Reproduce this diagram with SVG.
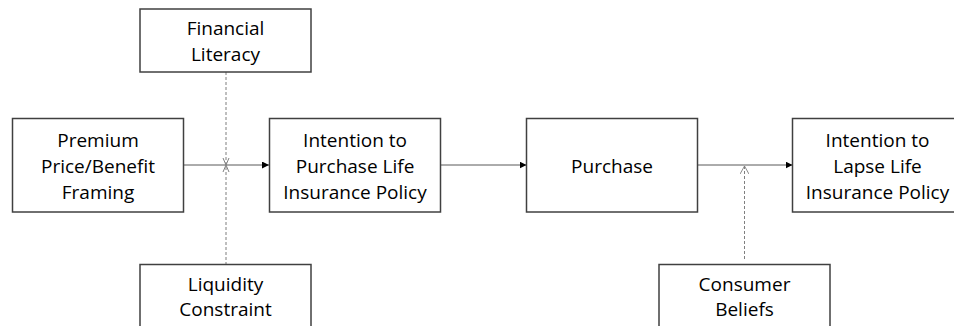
<svg xmlns="http://www.w3.org/2000/svg" width="954" height="326" viewBox="0 0 954 326">
  <style>
    .box { fill: #ffffff; stroke: #404040; stroke-width: 1.5; }
    .lbl { font-family: "Open Sans", "Liberation Sans", sans-serif; font-size: 19px; fill: #000000; text-anchor: middle; }
    .flow { stroke: #595959; stroke-width: 1; fill: none; }
    .mod { stroke: #7f7f7f; stroke-width: 1; fill: none; stroke-dasharray: 3 2; }
  </style>
  <defs>
    <marker id="solidHead" viewBox="0 0 10 10" refX="10" refY="5" markerWidth="7" markerHeight="7" markerUnits="userSpaceOnUse" orient="auto">
      <path d="M0,0 L10,5 L0,10 Z" fill="#000000"/>
    </marker>
    <marker id="openHead" viewBox="0 0 10 10" refX="9" refY="5" markerWidth="9" markerHeight="9" markerUnits="userSpaceOnUse" orient="auto">
      <path d="M0,0 L9,5 L0,10" fill="none" stroke="#7f7f7f" stroke-width="1"/>
    </marker>
  </defs>

  <!-- connectors -->
  <g id="connectors">
    <line class="flow" x1="183.5" y1="165" x2="269" y2="165" marker-end="url(#solidHead)"/>
    <line class="flow" x1="440" y1="165" x2="526.5" y2="165" marker-end="url(#solidHead)"/>
    <line class="flow" x1="698" y1="165" x2="792.5" y2="165" marker-end="url(#solidHead)"/>
    <!-- moderators on the first path -->
    <line class="mod" x1="226" y1="72" x2="226" y2="264"/>
    <path d="M223,158 L229,172 M229,158 L223,172" stroke="#7f7f7f" stroke-width="1" fill="none"/>
    <!-- moderator on the second path -->
    <line class="mod" x1="744.5" y1="259" x2="744.5" y2="166" marker-end="url(#openHead)"/>
  </g>

  <g id="financial-literacy">
    <rect class="box" x="140" y="9" width="171" height="63"/>
    <text class="lbl" x="225.5" y="35">Financial</text>
    <text class="lbl" x="225.5" y="61">Literacy</text>
  </g>

  <g id="premium-framing">
    <rect class="box" x="12.5" y="118.5" width="171" height="93.5"/>
    <text class="lbl" x="98" y="147">Premium</text>
    <text class="lbl" x="98" y="173">Price/Benefit</text>
    <text class="lbl" x="98" y="199">Framing</text>
  </g>

  <g id="intention-purchase">
    <rect class="box" x="269.5" y="118.5" width="171" height="93.5"/>
    <text class="lbl" x="355" y="147">Intention to</text>
    <text class="lbl" x="355" y="173">Purchase Life</text>
    <text class="lbl" x="355" y="199">Insurance Policy</text>
  </g>

  <g id="liquidity-constraint">
    <rect class="box" x="140" y="264.5" width="171" height="70"/>
    <text class="lbl" x="225.5" y="291">Liquidity</text>
    <text class="lbl" x="225.5" y="316">Constraint</text>
  </g>

  <g id="purchase">
    <rect class="box" x="526.5" y="118.5" width="171" height="93.5"/>
    <text class="lbl" x="612" y="173">Purchase</text>
  </g>

  <g id="intention-lapse">
    <rect class="box" x="792.5" y="118.5" width="171" height="93.5"/>
    <text class="lbl" x="877.5" y="147">Intention to</text>
    <text class="lbl" x="877.5" y="173">Lapse Life</text>
    <text class="lbl" x="877.5" y="199">Insurance Policy</text>
  </g>

  <g id="consumer-beliefs">
    <rect class="box" x="659" y="264.5" width="171" height="70"/>
    <text class="lbl" x="744.5" y="291">Consumer</text>
    <text class="lbl" x="744.5" y="316">Beliefs</text>
  </g>
</svg>
